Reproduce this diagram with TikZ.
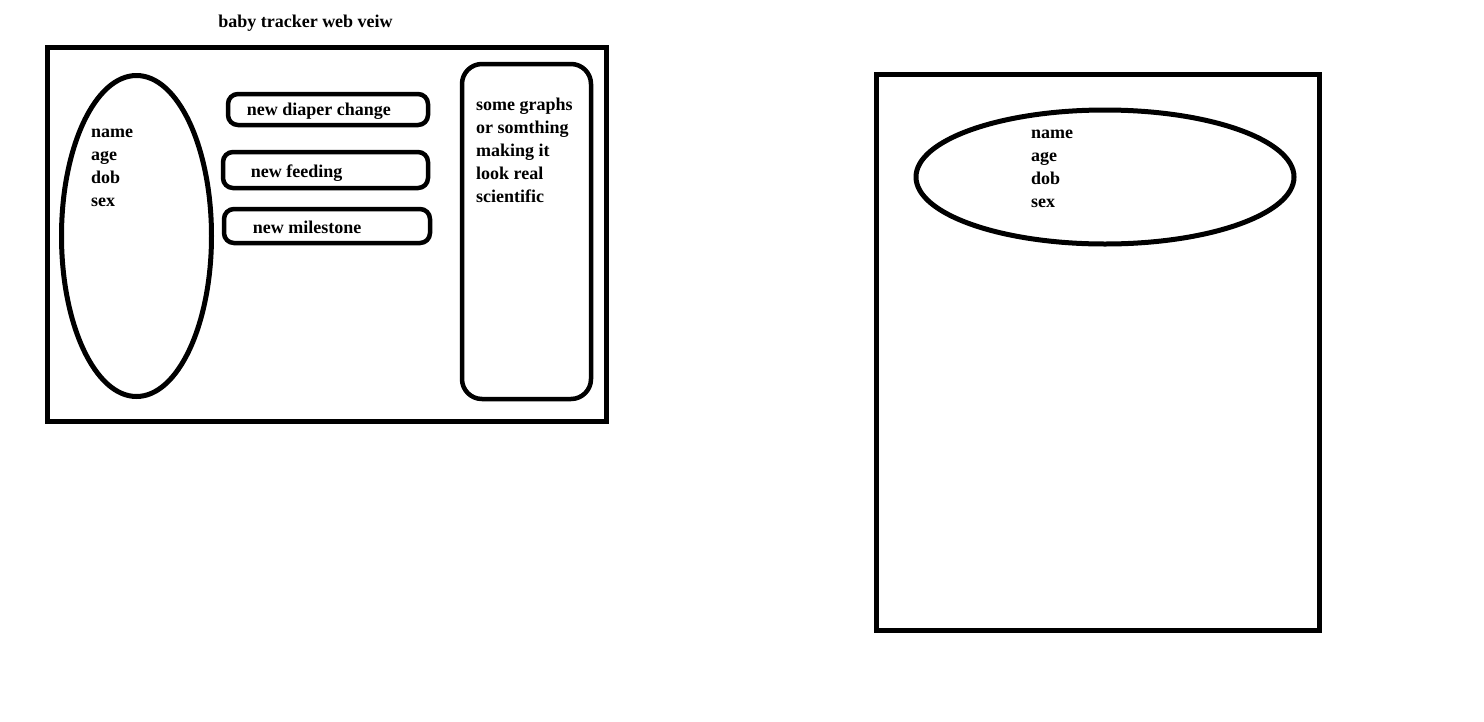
\documentclass[tikz,border=0pt]{standalone}
\usepackage{fontspec}
\setmainfont{Liberation Serif}
\usetikzlibrary{positioning,shapes.geometric}

\tikzset{
  frame/.style={draw, rectangle, line width=5pt, inner sep=0pt},
  blob/.style={draw, ellipse, line width=5pt, inner sep=0pt},
  btn/.style={draw, rectangle, rounded corners=10pt, line width=4.5pt, inner sep=0pt},
  txt/.style={font=\fontsize{18}{23}\selectfont\bfseries, inner sep=0pt},
  lst/.style={txt, align=left, anchor=north west}
}

\begin{document}
\begin{tikzpicture}[x=1pt, y=-1pt]
    \useasboundingbox (0,0) rectangle (1484,721);
    % web view
    \node[frame, minimum width=559pt, minimum height=374pt] (web) at (326.5,234) {};
    \node[txt, above=13pt of web.north, xshift=-21pt] (web_title) {baby tracker web veiw};
    \node[blob, minimum width=150pt, minimum height=321pt] (web_info) at (136.5,236) {};
    \node[lst] (web_info_txt) at (91,129) {name\\age\\dob\\sex};
    %
    \node[btn, minimum width=200pt, minimum height=31pt] (diaper) at (328,109.5) {};
    \node[btn, minimum width=205pt, minimum height=36pt] (feeding) at (325.5,170) {};
    \node[btn, minimum width=206pt, minimum height=34pt] (milestone) at (327,226) {};
    \node[txt, right=21pt of diaper.west, yshift=-2pt] (diaper_txt) {new diaper change};
    \node[txt, right=30pt of feeding.west, yshift=-3pt] (feeding_txt) {new feeding};
    \node[txt, right=31pt of milestone.west, yshift=-1pt] (milestone_txt) {new milestone};
    %
    \node[btn, rounded corners=20pt, minimum width=129pt, minimum height=335pt] (graphs) at (526.5,231.5) {};
    \node[lst] (graphs_txt) at (476,98) {some graphs\\or somthing\\making it\\look real\\scientific};
    % mobile view
    \node[frame, minimum width=443pt, minimum height=556pt] (mobile) at (1097.5,352) {};
    \node[blob, minimum width=378pt, minimum height=134pt] (mobile_info) at (1105,177) {};
    \node[lst] (mobile_info_txt) at (1031,130) {name\\age\\dob\\sex};
\end{tikzpicture}
\end{document}
